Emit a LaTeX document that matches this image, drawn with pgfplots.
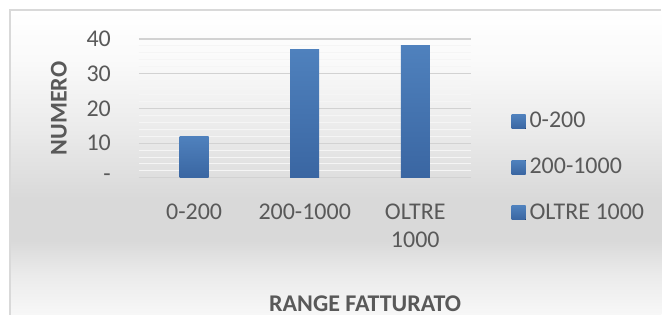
\documentclass[border=0pt]{standalone}
\usepackage{pgfplots}
\pgfplotsset{compat=1.18}
\usepackage{fontspec}
\setmainfont{Carlito}
\definecolor{txt}{HTML}{595959}
\definecolor{bartop}{HTML}{4F81BD}
\definecolor{barbot}{HTML}{3A66A2}
\definecolor{gridc}{HTML}{D2D2D2}
\pgfdeclareverticalshading{bg}{100bp}{color(0bp)=(white!97!black); color(25bp)=(white!97!black); color(31.6bp)=(white!92!black); color(37.3bp)=(white!85!black); color(43.9bp)=(white!85!black); color(55.3bp)=(white!92!black); color(66.8bp)=(white!98!black); color(75bp)=(white); color(100bp)=(white)}
\pgfplotsset{sqlegend/.style={legend image code/.code={\fill[##1] (0pt,-3.5pt) rectangle (7pt,3.5pt);}}}
\begin{document}
\begin{tikzpicture}[x=1pt,y=1pt]
\fill[white] (0,0) rectangle (331,157.5);
\shade[shading=bg] (5,0) rectangle (331,152.5);
\draw[black!15, line width=0.6pt] (5,0) -- (5,152.5) -- (331,152.5);
\begin{axis}[
  at={(69.5pt,68.5pt)}, anchor=south west,
  scale only axis, width=166pt, height=69.5pt,
  xmin=-0.5, xmax=2.5, ymin=0, ymax=40,
  xtick={0,1,2}, xticklabels={0-200,200-1000,OLTRE\\1000},
  ytick={0,10,20,30,40}, yticklabels={-\hspace{5pt},10,20,30,40},
  minor ytick={2,4,6,8,12,14,16,18,22,24,26,28,32,34,36,38},
  font=\fontsize{12}{14}\selectfont,
  tick label style={text=txt, font=\fontsize{12}{14}\selectfont},
  yticklabel style={anchor=east, xshift=-10.5pt},
  xticklabel style={align=center, anchor=north, inner sep=0pt, yshift=-13pt},
  ymajorgrids, yminorgrids,
  major grid style={gridc, line width=0.6pt},
  minor grid style={black!4, line width=0.5pt},
  axis line style={draw=none}, major tick length=0pt, minor tick length=0pt,
  ybar, bar width=14.5pt, bar shift=0pt,
  ylabel={NUMERO}, xlabel={RANGE FATTURATO},
  label style={font=\fontsize{12}{14}\selectfont\bfseries, text=txt},
  ylabel style={at={(axis description cs:-0.241,0.5)}, anchor=center},
  xlabel style={at={(axis description cs:0.682,-0.91)}, anchor=center},
  legend style={at={(axis description cs:1.1235,0.50)}, anchor=north west,
    draw=none, fill=none, inner sep=0pt, outer sep=0pt,
    font=\fontsize{12}{14}\selectfont, text=txt, row sep=9.5pt},
  legend cell align=left,
]
\addplot[draw=none, top color=bartop, bottom color=barbot, sqlegend] coordinates {(0,12)};
\addlegendentry{0-200}
\addplot[draw=none, top color=bartop, bottom color=barbot, sqlegend] coordinates {(1,37)};
\addlegendentry{200-1000}
\addplot[draw=none, top color=bartop, bottom color=barbot, sqlegend] coordinates {(2,38)};
\addlegendentry{OLTRE 1000}
\end{axis}
\end{tikzpicture}
\end{document}
